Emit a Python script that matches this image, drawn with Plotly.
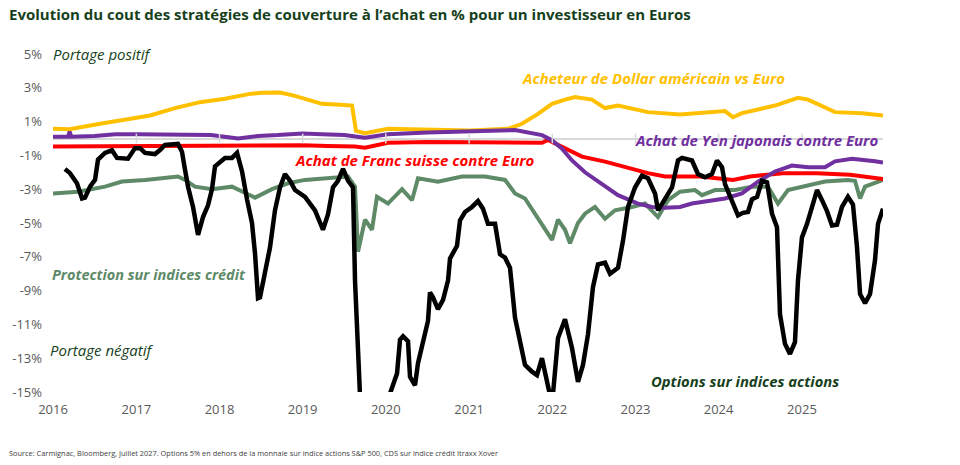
import numpy as np
import pandas as pd
import plotly.graph_objects as go

# ---- data (time in years since 2016-01-01, values in %) ----
usd_t = [0, 0.20, 0.565, 0.865, 1.166, 1.466, 1.767, 2.067, 2.368, 2.512, 2.728, 2.885, 3.029, 3.233, 3.45, 3.594,
         3.642, 3.75, 4.026, 4.531, 5.012, 5.469, 5.637, 5.829, 5.998, 6.154, 6.274, 6.478, 6.635, 6.791, 7.151,
         7.536, 7.776, 8.077, 8.173, 8.281, 8.678, 8.954, 9.075, 9.399, 9.724, 9.976]
usd_v = [0.57, 0.55, 0.87, 1.10, 1.36, 1.80, 2.15, 2.35, 2.64, 2.70, 2.72, 2.55, 2.35, 2.05, 2.00, 1.95,
         0.45, 0.31, 0.57, 0.50, 0.47, 0.57, 0.87, 1.46, 2.05, 2.30, 2.45, 2.30, 1.80, 1.95, 1.56,
         1.42, 1.50, 1.62, 1.26, 1.50, 1.95, 2.41, 2.30, 1.56, 1.50, 1.36]

jpy_t = [0, 0.18, 0.20, 0.22, 0.50, 0.75, 1.0, 1.3, 1.6, 1.9, 2.224, 2.464, 2.70, 3.0, 3.233, 3.5, 3.75, 4.026,
         4.5, 5.012, 5.553, 5.877, 5.998, 6.118, 6.238, 6.394, 6.635, 6.791, 7.031, 7.200, 7.356, 7.536, 7.680,
         8.077, 8.281, 8.474, 8.678, 8.882, 9.075, 9.279, 9.399, 9.603, 9.88, 9.976]
jpy_v = [0.10, 0.10, 0.40, 0.10, 0.15, 0.25, 0.25, 0.25, 0.20, 0.20, 0.00, 0.15, 0.20, 0.30, 0.25, 0.20, 0.05, 0.25,
         0.35, 0.40, 0.50, 0.20, -0.10, -0.60, -1.30, -2.00, -2.85, -3.35, -3.85, -4.05, -4.10, -4.05, -3.85,
         -3.55, -3.25, -2.55, -1.95, -1.60, -1.70, -1.70, -1.35, -1.20, -1.35, -1.42]

chf_t = [0, 1.0, 2.0, 3.0, 3.3, 3.63, 3.75, 4.026, 4.5, 5.012, 5.469, 5.877, 5.95, 6.154, 6.358, 6.635, 6.875,
         7.151, 7.356, 7.536, 7.776, 8.173, 8.377, 8.774, 9.183, 9.579, 9.976]
chf_v = [-0.48, -0.45, -0.45, -0.40, -0.45, -0.48, -0.55, -0.25, -0.20, -0.20, -0.20, -0.25, -0.08, -0.57, -1.07,
         -1.37, -1.70, -2.05, -2.25, -2.25, -2.25, -2.45, -2.25, -2.05, -2.05, -2.15, -2.40]

credit_t = [0, 0.30, 0.625, 0.829, 1.106, 1.31, 1.502, 1.587, 1.707, 1.911, 2.151, 2.344, 2.428, 2.632, 2.825,
            3.029, 3.233, 3.546, 3.63, 3.666, 3.75, 3.834, 3.894, 4.026, 4.195, 4.315, 4.387, 4.627, 4.916, 5.012,
            5.192, 5.433, 5.553, 5.673, 5.793, 5.913, 5.998, 6.070, 6.154, 6.214, 6.310, 6.394, 6.514, 6.635, 6.755,
            6.959, 7.115, 7.272, 7.392, 7.536, 7.716, 7.800, 7.957, 8.197, 8.401, 8.594, 8.714, 8.834, 9.075, 9.279,
            9.555, 9.639, 9.700, 9.760, 9.976]
credit_v = [-3.25, -3.15, -2.85, -2.55, -2.45, -2.35, -2.25, -2.45, -2.85, -3.0, -2.85, -3.3, -3.5, -3.0, -2.65,
            -2.45, -2.35, -2.25, -2.85, -6.7, -4.8, -5.4, -3.45, -3.85, -3.0, -3.65, -2.35, -2.55, -2.25, -2.25,
            -2.25, -2.45, -3.25, -3.55, -4.45, -5.4, -6.0, -4.8, -5.4, -6.2, -5.0, -4.45, -4.05, -4.75, -4.25,
            -4.05, -3.85, -4.65, -3.65, -3.15, -3.05, -3.35, -3.05, -3.05, -2.85, -2.85, -3.85, -3.05, -2.75, -2.55,
            -2.45, -2.5, -3.55, -2.85, -2.45]

equity_t = [0.144, 0.204, 0.288, 0.349, 0.385, 0.445, 0.505, 0.541, 0.625, 0.709, 0.769, 0.901, 0.986, 1.046,
            1.106, 1.226, 1.286, 1.346, 1.502, 1.550, 1.587, 1.623, 1.683, 1.743, 1.803, 1.863, 1.911, 1.947,
            2.067, 2.151, 2.212, 2.272, 2.332, 2.392, 2.428, 2.464, 2.488, 2.524, 2.608, 2.668, 2.728, 2.788,
            2.849, 2.909, 3.029, 3.149, 3.245, 3.305, 3.365, 3.425, 3.486, 3.546, 3.606, 3.630, 3.666, 3.75,
            3.95, 4.050, 4.135, 4.171, 4.207, 4.267, 4.291, 4.351, 4.387, 4.447, 4.507, 4.531, 4.567, 4.627,
            4.688, 4.748, 4.772, 4.856, 4.892, 4.952, 5.036, 5.108, 5.168, 5.228, 5.313, 5.373, 5.433, 5.493,
            5.553, 5.613, 5.673, 5.757, 5.817, 5.877, 5.938, 5.974, 6.010, 6.070, 6.154, 6.238, 6.310, 6.370,
            6.430, 6.490, 6.550, 6.635, 6.695, 6.791, 6.851, 6.911, 6.995, 7.079, 7.151, 7.236, 7.272, 7.356,
            7.440, 7.512, 7.560, 7.680, 7.752, 7.837, 7.921, 7.981, 8.041, 8.077, 8.161, 8.233, 8.293, 8.353,
            8.401, 8.462, 8.522, 8.582, 8.642, 8.702, 8.738, 8.798, 8.858, 8.918, 8.954, 9.002, 9.063, 9.123,
            9.183, 9.243, 9.303, 9.363, 9.423, 9.483, 9.555, 9.615, 9.663, 9.700, 9.760, 9.820, 9.880, 9.916,
            9.976]
equity_v = [-1.8, -2.05, -2.65, -3.55, -3.5, -2.85, -2.45, -1.25, -0.85, -0.7, -1.15, -1.2, -0.57, -0.57,
            -0.85, -0.92, -0.68, -0.38, -0.32, -0.78, -1.85, -2.85, -4.05, -5.7, -4.65, -3.95, -3.0, -1.65,
            -1.15, -1.15, -0.85, -1.95, -3.6, -5.0, -6.8, -9.45, -9.4, -8.4, -6.45, -4.25, -2.9, -2.1,
            -2.5, -3.05, -3.45, -4.25, -5.4, -4.5, -2.9, -2.5, -1.8, -2.5, -2.9, -8.4, -16.0, -22.0,
            -22.0, -15.1, -13.9, -11.9, -11.7, -12.0, -14.1, -14.6, -13.3, -12.0, -10.8, -9.1, -9.4, -10.1,
            -9.55, -8.4, -7.1, -6.35, -4.85, -4.35, -4.05, -3.7, -4.15, -5.05, -5.05, -6.85, -7.05, -7.65,
            -10.6, -12.0, -13.4, -13.8, -14.0, -13.0, -14.4, -15.2, -15.1, -11.8, -10.7, -12.4, -14.4, -13.4,
            -11.6, -8.8, -7.45, -7.35, -8.0, -7.65, -6.05, -4.05, -2.9, -2.2, -2.35, -3.25, -4.25, -3.55,
            -2.9, -1.3, -1.15, -1.3, -2.1, -2.3, -2.1, -1.3, -1.7, -2.7, -3.65, -4.55, -4.4, -4.35,
            -3.6, -3.45, -2.5, -2.6, -4.45, -5.25, -10.4, -12.15, -12.75, -12.05, -8.4, -5.85, -5.05, -3.95,
            -3.05, -3.65, -4.3, -5.15, -5.1, -4.05, -3.45, -3.9, -6.4, -9.2, -9.75, -9.2, -7.2, -5.05,
            -4.15]

y_ticks = [5, 3, 1, -1, -3, -5, -7, -9, -11, -13, -15]
y_tick_labels = ["5%", "3%", "1%", "-1%", "-3%", "-5%", "-7%", "-9%", "-11%", "-13%", "-15%"]
years = list(range(2016, 2026))

BASE = pd.Timestamp("2016-01-01")


def to_dates(t):
    return BASE + pd.to_timedelta(np.asarray(t) * 365.25, unit="D")


YELLOW = "#FFC000"
PURPLE = "#7030A0"
RED = "#FF0000"
GREEN = "#5E8A68"
DARK = "#163F1C"
GREY = "#595959"
FONT = "Open Sans"

fig = go.Figure()

fig.add_trace(go.Scatter(x=to_dates(credit_t), y=credit_v, mode="lines",
                         line=dict(color=GREEN, width=4)))
fig.add_trace(go.Scatter(x=to_dates(usd_t), y=usd_v, mode="lines",
                         line=dict(color=YELLOW, width=4)))
fig.add_trace(go.Scatter(x=to_dates(chf_t), y=chf_v, mode="lines",
                         line=dict(color=RED, width=4)))
fig.add_trace(go.Scatter(x=to_dates(jpy_t), y=jpy_v, mode="lines",
                         line=dict(color=PURPLE, width=4)))
fig.add_trace(go.Scatter(x=to_dates(equity_t), y=equity_v, mode="lines",
                         line=dict(color="#000000", width=4.5)))

# small tick marks on the zero axis line
fig.add_trace(go.Scatter(x=[pd.Timestamp(f"{y}-01-01") for y in years[1:]], y=[0] * (len(years) - 1),
                         mode="markers", marker=dict(symbol="line-ns", size=7,
                                                     line=dict(color="#D9D9D9", width=1.5)),
                         hoverinfo="skip"))

BI = 15  # bold-italic label size
annotations = [
    dict(text="Portage positif", x=BASE, y=5, xanchor="left", yanchor="middle", xshift=-2,
         font=dict(size=15, color=DARK, family=FONT, style="italic")),
    dict(text="Portage négatif", x=BASE, y=-12.5, xanchor="left", yanchor="middle", xshift=-5,
         font=dict(size=15, color=DARK, family=FONT, style="italic")),
    dict(text="<b>Protection sur indices crédit</b>", x=BASE, y=-8.05, xanchor="left", yanchor="middle",
         xshift=-3, font=dict(size=14.5, color=GREEN, family=FONT, style="italic")),
    dict(text="<b>Achat de Franc suisse contre Euro</b>", x=to_dates([2.915])[0], y=-1.28,
         xanchor="left", yanchor="middle", xshift=-3,
         font=dict(size=BI, color=RED, family=FONT, style="italic")),
    dict(text="<b>Acheteur de Dollar américain vs Euro</b>", x=to_dates([5.649])[0], y=3.6,
         xanchor="left", yanchor="middle", xshift=-3,
         font=dict(size=BI, color=YELLOW, family=FONT, style="italic")),
    dict(text="<b>Achat de Yen japonais contre Euro</b>", x=to_dates([7.007])[0], y=-0.1,
         xanchor="left", yanchor="middle", xshift=-3,
         font=dict(size=BI, color=PURPLE, family=FONT, style="italic")),
    dict(text="<b>Options sur indices actions</b>", x=to_dates([7.200])[0], y=-14.33,
         xanchor="left", yanchor="middle", xshift=-3,
         font=dict(size=14.8, color=DARK, family=FONT, style="italic")),
    dict(text="Source: Carmignac, Bloomberg, Juillet 2027. Options 5% en dehors de la monnaie sur indice actions "
              "S&P 500, CDS sur indice crédit Itraxx Xover",
         xref="paper", yref="paper", x=-0.056, y=-0.18, xanchor="left", yanchor="middle",
         font=dict(size=7.4, color="#404040", family=FONT)),
]
for a in annotations:
    a.setdefault("xref", "x")
    a.setdefault("yref", "y")
    a["showarrow"] = False

fig.update_layout(
    width=960, height=465,
    margin=dict(l=53, r=77, t=54, b=73),
    paper_bgcolor="white", plot_bgcolor="white",
    showlegend=False,
    font=dict(family=FONT, color=GREY, size=13),
    title=dict(text="<b>Evolution du cout des stratégies de couverture à l’achat en % pour un investisseur en Euros</b>",
               x=9 / 960, xanchor="left", xref="container",
               y=1 - 15 / 465, yanchor="middle", yref="container",
               font=dict(size=15, color=DARK, family=FONT)),
    annotations=annotations,
)

fig.update_xaxes(
    type="date", range=[to_dates([0])[0], to_dates([9.976])[0]],
    tickvals=[pd.Timestamp(f"{y}-01-01") for y in years], ticktext=[str(y) for y in years],
    showgrid=False, zeroline=False, showline=False, ticks="",
    tickfont=dict(size=13, color=GREY, family=FONT), ticklabelstandoff=8,
)
fig.update_yaxes(
    range=[-15, 5], tickvals=y_ticks, ticktext=y_tick_labels,
    showgrid=False, zeroline=True, zerolinecolor="#D9D9D9", zerolinewidth=2, showline=False, ticks="",
    tickfont=dict(size=13, color=GREY, family=FONT), ticklabelstandoff=10,
)

fig.write_html("out.html")
